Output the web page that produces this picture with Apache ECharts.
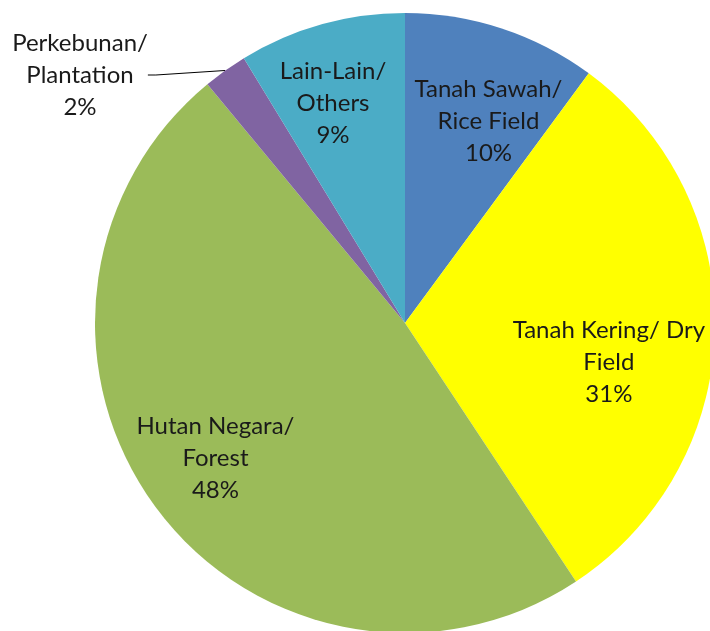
<!DOCTYPE html>
<head>
    <meta charset="utf-8">
    <title>ECharts</title>
    <script type="text/javascript" src="https://cdn.jsdelivr.net/npm/echarts@6/dist/echarts.min.js"></script>
    <style>body{margin:0;background:#fff;}</style>
</head>
<body>
    <div id="main" style="width:710px;height:631px"></div>
    <script type="text/javascript">
     // kategori dan nilai (persen)
     var categories = ['Tanah Sawah/\nRice Field', 'Tanah Kering/ Dry\nField', 'Hutan Negara/\nForest', 'Perkebunan/\nPlantation', 'Lain-Lain/\nOthers'];
     var values = [10.1, 30.6, 48.3, 2.3, 8.7];
     var colors = ['#4F81BD', '#FFFF00', '#9BBB59', '#8064A2', '#4BACC6'];

     var cx = 405, cy = 323;
     // geser label sedikit seperti penempatan "best fit" di Excel
     var labelNudge = [[13, 13], [-22, 34], [-8, 1], [0, 0], [-11, -2]];
     var myChart = echarts.init(document.getElementById('main'));

     var data = categories.map(function (name, i) {
         var item = { name: name, value: values[i], itemStyle: { color: colors[i] } };
         if (i === 3) {
             item.label = { position: 'outside' };
             item.labelLine = { show: true, length: 20, length2: 8, lineStyle: { color: '#000', width: 1 } };
         }
         return item;
     });

     myChart.setOption({
         animation: false,
         series: [{
             type: 'pie',
             center: [cx, cy],
             radius: 310,
             startAngle: 90,
             clockwise: true,
             avoidLabelOverlap: false,
             data: data,
             label: {
                 show: true,
                 position: 'inside',
                 color: '#1a1a1a',
                 fontFamily: 'Lato',
                 fontSize: 24,
                 lineHeight: 32,
                 align: 'center',
                 formatter: function (p) {
                     return p.name + '\n' + Math.round(p.percent) + '%';
                 }
             },
             labelLine: { show: false },
             labelLayout: function (p) {
                 if (p.dataIndex === 3) {
                     return { x: 80, y: 75, align: 'center', verticalAlign: 'middle' };
                 }
                 // dorong label ke luar, ke sekitar 0.72 jari-jari
                 var lx = p.labelRect.x + p.labelRect.width / 2;
                 var ly = p.labelRect.y + p.labelRect.height / 2;
                 var n = labelNudge[p.dataIndex];
                 return {
                     x: cx + (lx - cx) * 1.43 + n[0],
                     y: cy + (ly - cy) * 1.43 + n[1],
                     align: 'center',
                     verticalAlign: 'middle'
                 };
             }
         }]
     });
    </script>
</body>
